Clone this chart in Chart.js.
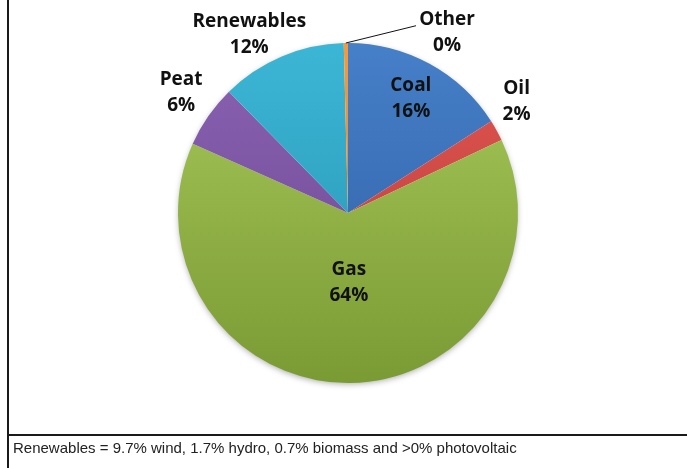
<!DOCTYPE html>
<html>
<head>
<meta charset="utf-8">
<script src="https://cdn.jsdelivr.net/npm/chart.js@4.4.0/dist/chart.umd.min.js"></script>
<style>
    body { margin: 0; background: #fff; }
    #wrap { position: relative; width: 687px; height: 468px; overflow: hidden; }
    #chartBox { position: absolute; left: 0; top: 0; width: 687px; height: 434px; }
    .vline { position: absolute; left: 7px; top: 0; width: 2px; height: 468px; background: #1a1a1a; }
    .hline { position: absolute; left: 7px; top: 434px; width: 680px; height: 2px; background: #1a1a1a; }
    #note { position: absolute; left: 13px; top: 439px; font: 15px "Liberation Sans", Arial, sans-serif; color: #222; }
</style>
</head>
<body>
<div id="wrap">
    <div id="chartBox"><canvas id="mixChart"></canvas></div>
    <div class="vline"></div>
    <div class="hline"></div>
    <div id="note">Renewables = 9.7% wind, 1.7% hydro, 0.7% biomass and &gt;0% photovoltaic</div>
</div>
<script>
// generation mix, percent
const sources = ["Coal", "Oil", "Gas", "Peat", "Renewables", "Other"];
const shares = [16, 2, 64, 6, 12, 0.4];

// top / bottom shade of each slice
const lightColors = ["#4680c8", "#e05652", "#a8c95a", "#8a62b2", "#3cb6d6", "#f59a3c"];
const darkColors = ["#2d5ca2", "#b83a36", "#7a9a34", "#6a4590", "#2590ae", "#e07820"];

// where each label sits: fraction of radius, angle nudge in degrees
const labelPlace = [
    { r: 0.77, da: 0 },
    { r: 1.19, da: -4.5 },
    { r: 0.41, da: 0 },
    { r: 1.21, da: 1 },
    { r: 1.2, da: -6 },
    { r: 1.21, da: 29.5 }
];

const rimShadow = {
    id: "rimShadow",
    beforeDatasetsDraw(chart) {
        const arc = chart.getDatasetMeta(0).data[0];
        if (!arc) return;
        const ctx = chart.ctx;
        ctx.save();
        ctx.shadowColor = "rgba(0,0,0,0.35)";
        ctx.shadowBlur = 6;
        ctx.shadowOffsetY = 2;
        ctx.fillStyle = "#fff";
        ctx.beginPath();
        ctx.arc(arc.x, arc.y, arc.outerRadius - 1, 0, Math.PI * 2);
        ctx.fill();
        ctx.restore();
    }
};

const sliceLabels = {
    id: "sliceLabels",
    afterDatasetsDraw(chart) {
        const ctx = chart.ctx;
        const arcs = chart.getDatasetMeta(0).data;
        ctx.save();
        ctx.font = "bold 19px 'Open Sans', sans-serif";
        ctx.fillStyle = "#111";
        ctx.textAlign = "center";
        ctx.textBaseline = "middle";
        arcs.forEach((arc, i) => {
            const place = labelPlace[i];
            const mid = (arc.startAngle + arc.endAngle) / 2;
            const a = mid + place.da * Math.PI / 180;
            const d = arc.outerRadius * place.r;
            const x = arc.x + Math.cos(a) * d;
            const y = arc.y + Math.sin(a) * d;
            ctx.fillText(sources[i], x, y - 13);
            ctx.fillText(Math.round(shares[i]) + "%", x, y + 13);

            // leader line for the sliver
            if (sources[i] === "Other") {
                const sx = arc.x + Math.cos(mid) * arc.outerRadius;
                const sy = arc.y + Math.sin(mid) * arc.outerRadius;
                ctx.strokeStyle = "#111";
                ctx.lineWidth = 1;
                ctx.beginPath();
                ctx.moveTo(sx, sy);
                ctx.lineTo(x - 31, y - 7);
                ctx.stroke();
            }
        });
        ctx.restore();
    }
};

new Chart(document.getElementById("mixChart"), {
    type: "pie",
    data: {
        labels: sources,
        datasets: [{
            data: shares,
            borderWidth: 0,
            backgroundColor: (context) => {
                const chart = context.chart;
                const { ctx, chartArea } = chart;
                const i = context.dataIndex;
                if (!chartArea) return darkColors[i];
                const gradient = ctx.createLinearGradient(0, chartArea.top, 0, chartArea.bottom);
                gradient.addColorStop(0, lightColors[i]);
                gradient.addColorStop(1, darkColors[i]);
                return gradient;
            }
        }]
    },
    options: {
        responsive: true,
        maintainAspectRatio: false,
        animation: false,
        layout: {
            padding: { left: 178, right: 169, top: 43, bottom: 51 }
        },
        plugins: {
            legend: { display: false },
            tooltip: { enabled: false }
        }
    },
    plugins: [rimShadow, sliceLabels]
});
</script>
</body>
</html>
